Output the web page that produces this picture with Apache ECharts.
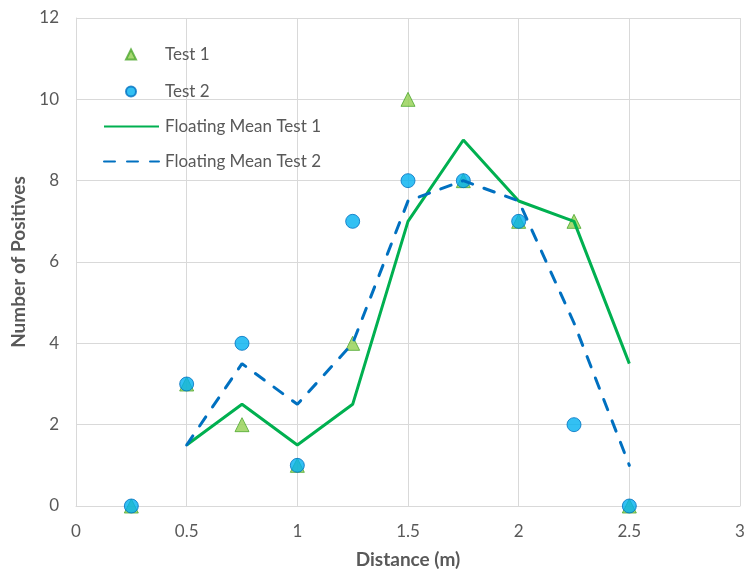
<!DOCTYPE html>
<html>
<head>
<meta charset="utf-8">
<script src="https://cdn.jsdelivr.net/npm/echarts@6/dist/echarts.min.js"></script>
<style>
  html, body { margin: 0; padding: 0; background: #fff; }
  #chart { width: 744px; height: 571px; }
</style>
</head>
<body>
<div id="chart"></div>
<script>
// Distances (m) where positives were counted
const distances = [0.25, 0.5, 0.75, 1, 1.25, 1.5, 1.75, 2, 2.25, 2.5];
const test1 = [0, 3, 2, 1, 4, 10, 8, 7, 7, 0];
const test2 = [0, 3, 4, 1, 7, 8, 8, 7, 2, 0];

// Two-point floating means, starting at 0.5 m
const meanDistances = [0.5, 0.75, 1, 1.25, 1.5, 1.75, 2, 2.25, 2.5];
const meanTest1 = [1.5, 2.5, 1.5, 2.5, 7, 9, 7.5, 7, 3.5];
const meanTest2 = [1.5, 3.5, 2.5, 4, 7.5, 8, 7.5, 4.5, 1];

const pairs = (xs, ys) => xs.map((x, i) => [x, ys[i]]);

const FONT = 'Lato';
const TEXT = '#595959';
const GRID = '#d9d9d9';
const LEGEND_TEXT = { fontFamily: FONT, fontSize: 17, color: TEXT };

// One legend block per entry so each row sits at its own height
function markerLegend(name, top) {
  return {
    orient: 'vertical', left: 125, top: top, padding: 0,
    itemWidth: 10, itemHeight: 10,
    data: [name],
    textStyle: Object.assign({ padding: [0, 0, 0, 24] }, LEGEND_TEXT)
  };
}
function lineLegend(name, top) {
  return {
    orient: 'vertical', left: 103, top: top, padding: 0,
    itemWidth: 55, itemHeight: 14,
    data: [name],
    itemStyle: { opacity: 0 },
    textStyle: Object.assign({ padding: [0, 0, 0, 1] }, LEGEND_TEXT)
  };
}

const chart = echarts.init(document.getElementById('chart'), null, { renderer: 'canvas' });

chart.setOption({
  animation: false,
  backgroundColor: '#ffffff',
  grid: { left: 76, right: 4, top: 18, bottom: 65, containLabel: false, outerBoundsMode: 'none' },
  legend: [
    markerLegend('Test 1', 46),
    markerLegend('Test 2', 83),
    lineLegend('Floating Mean Test 1', 118),
    lineLegend('Floating Mean Test 2', 153)
  ],
  xAxis: {
    type: 'value',
    min: 0,
    max: 3,
    interval: 0.5,
    name: 'Distance (m)',
    nameLocation: 'middle',
    nameGap: 44,
    nameTextStyle: { fontFamily: FONT, fontSize: 19, fontWeight: 'bold', color: TEXT },
    axisLine: { show: true, lineStyle: { color: GRID, width: 1 } },
    axisTick: { show: false },
    axisLabel: { fontFamily: FONT, fontSize: 17, color: TEXT, margin: 17 },
    splitLine: { show: true, lineStyle: { color: GRID, width: 1 } }
  },
  yAxis: {
    type: 'value',
    min: 0,
    max: 12,
    interval: 2,
    name: 'Number of Positives',
    nameLocation: 'middle',
    nameGap: 43,
    nameTextStyle: { fontFamily: FONT, fontSize: 19, fontWeight: 'bold', color: TEXT },
    axisLine: { show: true, lineStyle: { color: GRID, width: 1 } },
    axisTick: { show: false },
    axisLabel: { fontFamily: FONT, fontSize: 17, color: TEXT, margin: 17 },
    splitLine: { show: true, lineStyle: { color: GRID, width: 1 } }
  },
  series: [
    {
      name: 'Test 1',
      type: 'scatter',
      symbol: 'triangle',
      symbolSize: 14,
      data: pairs(distances, test1),
      itemStyle: { color: '#92d050', borderColor: '#4ea72e', borderWidth: 1 },
      z: 2
    },
    {
      name: 'Test 2',
      type: 'scatter',
      symbol: 'circle',
      symbolSize: 14,
      data: pairs(distances, test2),
      itemStyle: { color: '#00b0f0', borderColor: '#0070c0', borderWidth: 1 },
      z: 3
    },
    {
      name: 'Floating Mean Test 1',
      type: 'line',
      data: pairs(meanDistances, meanTest1),
      showSymbol: false,
      symbol: 'none',
      lineStyle: { color: '#00b050', width: 3 },
      itemStyle: { color: '#00b050' },
      z: 4
    },
    {
      name: 'Floating Mean Test 2',
      type: 'line',
      data: pairs(meanDistances, meanTest2),
      showSymbol: false,
      symbol: 'none',
      lineStyle: { color: '#0070c0', width: 3, type: [11, 12], cap: 'round' },
      itemStyle: { color: '#0070c0' },
      z: 5
    }
  ]
});
</script>
</body>
</html>
